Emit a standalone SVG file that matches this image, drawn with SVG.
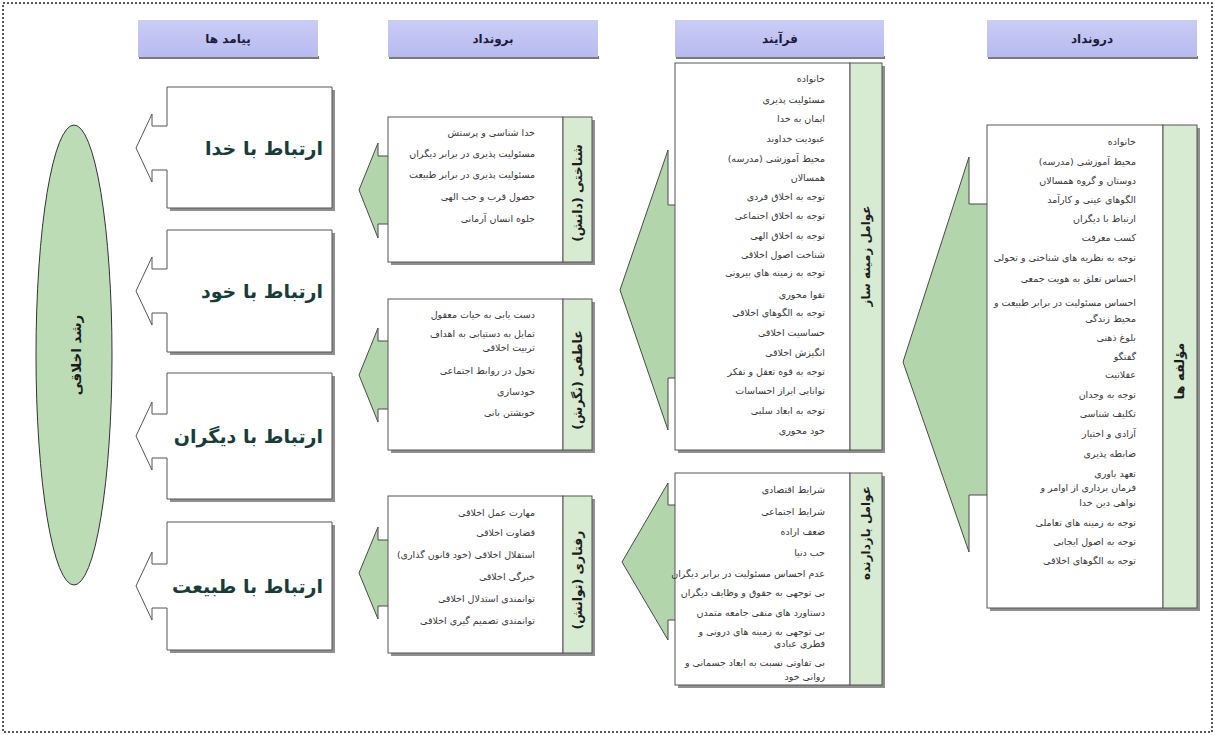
<svg xmlns="http://www.w3.org/2000/svg" width="1215" height="735" viewBox="0 0 1215 735">
<defs>
<linearGradient id="hdr" x1="0" y1="0" x2="0" y2="1">
<stop offset="0" stop-color="#cacdf6"/>
<stop offset="1" stop-color="#b7baee"/>
</linearGradient>
</defs>
<style>
text{font-family:"DejaVu Sans","Noto Sans",sans-serif;}
.r{direction:rtl;unicode-bidi:embed;text-anchor:start;}
.li{font-size:9.5px;fill:#383838;}
.ttl{font-size:12.5px;font-weight:bold;fill:#1c1c1c;direction:rtl;unicode-bidi:embed;text-anchor:middle;}
.hd{font-size:12px;font-weight:bold;fill:#1c1c3c;direction:rtl;unicode-bidi:embed;text-anchor:middle;}
.big{font-size:19px;font-weight:bold;fill:#173d38;direction:rtl;unicode-bidi:embed;text-anchor:start;}
.box{fill:#ffffff;stroke:#555;stroke-width:1;}
.strip{fill:#d6ebd2;stroke:#555;stroke-width:1;}
.shadow{fill:#6a6a6a;opacity:0.75;}
.arrow{fill:#b3d5ac;stroke:#4a4a4a;stroke-width:1;}
.hbox{fill:url(#hdr);}
.hsh{fill:#7a7a7a;}
</style>
<rect x="3" y="3" width="1209" height="729" fill="none" stroke="#222" stroke-width="1.5" stroke-dasharray="2,2"/>

<g id="headers">
<g id="h-payamad"><rect class="hsh" x="139" y="56" width="180" height="3"/><rect class="hbox" x="138" y="20" width="180" height="37"/><text class="hd" x="228" y="43">پیامد ها</text></g>
<g id="h-borondad"><rect class="hsh" x="389" y="56" width="210" height="3"/><rect class="hbox" x="388" y="20" width="210" height="37"/><text class="hd" x="493" y="43">برونداد</text></g>
<g id="h-farayand"><rect class="hsh" x="676" y="56" width="209" height="3"/><rect class="hbox" x="675" y="20" width="209" height="37"/><text class="hd" x="780" y="43">فرآیند</text></g>
<g id="h-daroondad"><rect class="hsh" x="988" y="56" width="210" height="3"/><rect class="hbox" x="987" y="20" width="210" height="37"/><text class="hd" x="1092" y="43">درونداد</text></g>
</g>

<g id="connectors">
<path class="arrow" d="M990 204 H969 V157 L903 362 L969 552 V495 H990"/>
<path class="arrow" d="M677 205 H668 V150 L620 290 L668 430 V378 H677"/>
<path class="arrow" d="M677 505 H668 V483 L622 562 L668 640 V620 H677"/>
<path class="arrow" d="M390 156 H378 V143 L359 190 L378 238 V224 H390"/>
<path class="arrow" d="M390 341 H378 V328 L359 375 L378 422 V409 H390"/>
<path class="arrow" d="M390 540 H378 V527 L359 573 L378 619 V606 H390"/>
</g>

<g id="n-moalefe">
<rect class="shadow" x="990" y="128" width="210" height="483"/>
<rect class="box" x="987" y="125" width="176" height="483"/>
<rect class="strip" x="1163" y="125" width="34" height="483"/>
<text class="ttl" transform="translate(1179,371) rotate(-90)" dominant-baseline="central" style="font-size:13px">مؤلفه ها</text>
<g class="li">
<text class="r" x="1136" y="145">خانواده</text>
<text class="r" x="1136" y="165">محیط آموزشی (مدرسه)</text>
<text class="r" x="1136" y="184">دوستان و گروه همسالان</text>
<text class="r" x="1136" y="203">الگوهای عینی و کارآمد</text>
<text class="r" x="1136" y="222">ارتباط با دیگران</text>
<text class="r" x="1136" y="241">کسب معرفت</text>
<text class="r" x="1136" y="261">توجه به نظریه های شناختی و تحولی</text>
<text class="r" x="1136" y="282">احساس تعلق به هویت جمعی</text>
<text class="r" x="1136" y="306">احساس مسئولیت در برابر طبیعت و</text>
<text class="r" x="1136" y="322">محیط زندگی</text>
<text class="r" x="1136" y="341">بلوغ ذهنی</text>
<text class="r" x="1136" y="360">گفتگو</text>
<text class="r" x="1136" y="378">عقلانیت</text>
<text class="r" x="1136" y="398">توجه به وجدان</text>
<text class="r" x="1136" y="417">تکلیف شناسی</text>
<text class="r" x="1136" y="437">آزادی و اختیار</text>
<text class="r" x="1136" y="457">ضابطه پذیری</text>
<text class="r" x="1136" y="477">تعهد باوری</text>
<text class="r" x="1136" y="491">فرمان برداری از اوامر و</text>
<text class="r" x="1136" y="506">نواهی دین خدا</text>
<text class="r" x="1136" y="526">توجه به زمینه های تعاملی</text>
<text class="r" x="1136" y="545">توجه به اصول ایجابی</text>
<text class="r" x="1136" y="564">توجه به الگوهای اخلاقی</text>
</g>
</g>

<g id="n-zamine">
<rect class="shadow" x="678" y="66" width="207" height="387"/>
<rect class="box" x="675" y="63" width="175" height="387"/>
<rect class="strip" x="850" y="63" width="32" height="387"/>
<text class="ttl" transform="translate(866,256) rotate(-90)" dominant-baseline="central" style="font-size:12px">عوامل زمینه ساز</text>
<g class="li">
<text class="r" x="825" y="82">خانواده</text>
<text class="r" x="825" y="103">مسئولیت پذیری</text>
<text class="r" x="825" y="122">ایمان به خدا</text>
<text class="r" x="825" y="142">عبودیت خداوند</text>
<text class="r" x="825" y="162">محیط آموزشی (مدرسه)</text>
<text class="r" x="825" y="181">همسالان</text>
<text class="r" x="825" y="200">توجه به اخلاق فردی</text>
<text class="r" x="825" y="219">توجه به اخلاق اجتماعی</text>
<text class="r" x="825" y="239">توجه به اخلاق الهی</text>
<text class="r" x="825" y="258">شناخت اصول اخلاقی</text>
<text class="r" x="825" y="276">توجه به زمینه های بیرونی</text>
<text class="r" x="825" y="298">تقوا محوری</text>
<text class="r" x="825" y="316">توجه به الگوهای اخلاقی</text>
<text class="r" x="825" y="336">حساسیت اخلاقی</text>
<text class="r" x="825" y="356">انگیزش اخلاقی</text>
<text class="r" x="825" y="375">توجه به قوه تعقل و تفکر</text>
<text class="r" x="825" y="394">توانایی ابراز احساسات</text>
<text class="r" x="825" y="414">توجه به ابعاد سلبی</text>
<text class="r" x="825" y="434">خود محوری</text>
</g>
</g>

<g id="n-bazdarande">
<rect class="shadow" x="678" y="476" width="207" height="212"/>
<rect class="box" x="675" y="473" width="175" height="212"/>
<rect class="strip" x="850" y="473" width="32" height="212"/>
<text class="ttl" transform="translate(866,533) rotate(-90)" dominant-baseline="central" style="font-size:12px">عوامل بازدارنده</text>
<g class="li">
<text class="r" x="825" y="493">شرایط اقتصادی</text>
<text class="r" x="825" y="515">شرایط اجتماعی</text>
<text class="r" x="825" y="535">ضعف اراده</text>
<text class="r" x="825" y="556">حب دنیا</text>
<text class="r" x="825" y="577">عدم احساس مسئولیت در برابر دیگران</text>
<text class="r" x="825" y="596">بی توجهی به حقوق و وظایف دیگران</text>
<text class="r" x="825" y="616">دستاورد های منفی جامعه متمدن</text>
<text class="r" x="825" y="635">بی توجهی به زمینه های درونی و</text>
<text class="r" x="825" y="647">فطری عبادی</text>
<text class="r" x="825" y="666">بی تفاوتی نسبت به ابعاد جسمانی و</text>
<text class="r" x="825" y="680">روانی خود</text>
</g>
</g>

<g id="n-shenakhti">
<rect class="shadow" x="391" y="120" width="204" height="145"/>
<rect class="box" x="388" y="117" width="175" height="145"/>
<rect class="strip" x="563" y="117" width="29" height="145"/>
<text class="ttl" transform="translate(577,193) rotate(-90)" dominant-baseline="central">شناختی (دانش)</text>
<g class="li">
<text class="r" x="535" y="136">خدا شناسی و پرستش</text>
<text class="r" x="535" y="157">مسئولیت پذیری در برابر دیگران</text>
<text class="r" x="535" y="178">مسئولیت پذیری در برابر طبیعت</text>
<text class="r" x="535" y="200">حصول قرب و حب الهی</text>
<text class="r" x="535" y="222">جلوه انسان آرمانی</text>
</g>
</g>

<g id="n-atefi">
<rect class="shadow" x="391" y="302" width="204" height="151"/>
<rect class="box" x="388" y="299" width="175" height="151"/>
<rect class="strip" x="563" y="299" width="29" height="151"/>
<text class="ttl" transform="translate(577,380) rotate(-90)" dominant-baseline="central">عاطفی (نگرش)</text>
<g class="li">
<text class="r" x="535" y="318">دست یابی به حیات معقول</text>
<text class="r" x="535" y="337">تمایل به دستیابی به اهداف</text>
<text class="r" x="535" y="351">تربیت اخلاقی</text>
<text class="r" x="535" y="374">تحول در روابط اجتماعی</text>
<text class="r" x="535" y="395">خودسازی</text>
<text class="r" x="535" y="416">خویشتن بانی</text>
</g>
</g>

<g id="n-raftari">
<rect class="shadow" x="391" y="499" width="204" height="157"/>
<rect class="box" x="388" y="496" width="175" height="157"/>
<rect class="strip" x="563" y="496" width="29" height="157"/>
<text class="ttl" transform="translate(577,580) rotate(-90)" dominant-baseline="central">رفتاری (توانش)</text>
<g class="li">
<text class="r" x="535" y="516">مهارت عمل اخلاقی</text>
<text class="r" x="535" y="536">قضاوت اخلاقی</text>
<text class="r" x="535" y="558">استقلال اخلاقی (خود قانون گذاری)</text>
<text class="r" x="535" y="580">خبرگی اخلاقی</text>
<text class="r" x="535" y="602">توانمندی استدلال اخلاقی</text>
<text class="r" x="535" y="624">توانمندی تصمیم گیری اخلاقی</text>
</g>
</g>

<g id="n-khoda">
<path class="shadow" d="M335 90 V211 H170 V208 H332 V90 Z"/>
<path class="box" d="M332 87 H167 V126 H152 V114 L136 148 L152 182 V170 H167 V208 H332 Z"/>
<text class="big" x="323" y="155">ارتباط با خدا</text>
</g>
<g id="n-khod">
<path class="shadow" d="M335 233 V355 H170 V352 H332 V233 Z"/>
<path class="box" d="M332 230 H167 V269 H152 V257 L136 291 L152 325 V313 H167 V352 H332 Z"/>
<text class="big" x="323" y="298">ارتباط با خود</text>
</g>
<g id="n-digaran">
<path class="shadow" d="M335 376 V502 H170 V499 H332 V376 Z"/>
<path class="box" d="M332 373 H167 V414 H152 V402 L136 436 L152 470 V458 H167 V499 H332 Z"/>
<text class="big" x="323" y="443">ارتباط با دیگران</text>
</g>
<g id="n-tabiat">
<path class="shadow" d="M335 525 V653 H170 V650 H332 V525 Z"/>
<path class="box" d="M332 522 H167 V564 H152 V552 L136 586 L152 620 V608 H167 V650 H332 Z"/>
<text class="big" x="323" y="593">ارتباط با طبیعت</text>
</g>

<g id="n-roshd">
<ellipse cx="74" cy="355" rx="38" ry="230" fill="#bcdcb6" stroke="#333" stroke-width="1"/>
<text class="ttl" transform="translate(76,355) rotate(-90)" dominant-baseline="central" style="font-size:13.5px">رشد اخلاقی</text>
</g>
</svg>
